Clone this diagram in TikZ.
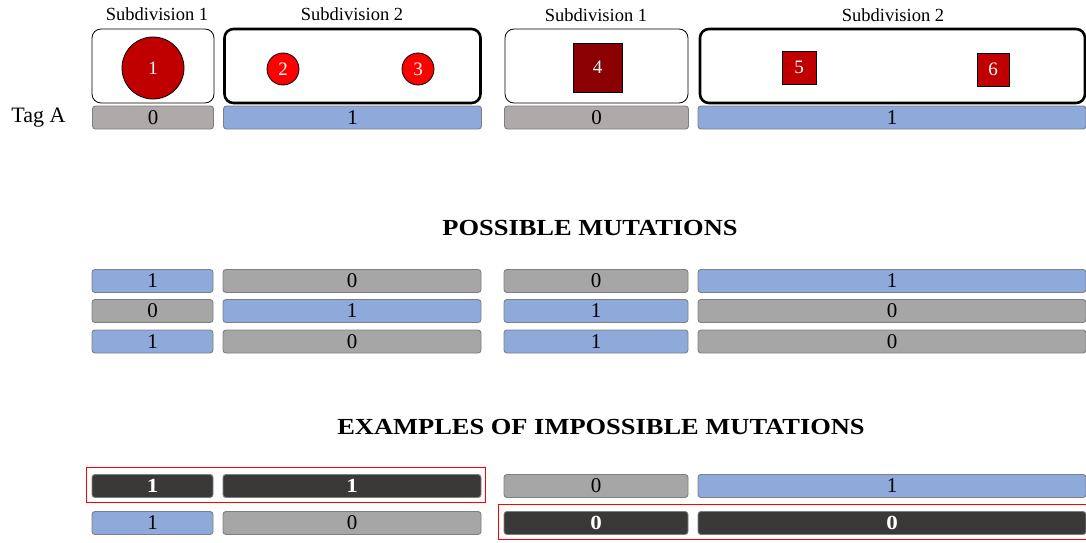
\documentclass[tikz,border=0pt]{standalone}
\usepackage{fontspec}
\setmainfont{Liberation Serif}[BoldFeatures={FakeStretch=1.15}]
\usepackage{tikz}
\usetikzlibrary{
    calc,
    positioning
}
\definecolor{zerogray}{HTML}{AEAAAA}
\definecolor{midgray}{HTML}{A6A6A6}
\definecolor{oneblue}{HTML}{8EAADB}
\definecolor{darkbar}{HTML}{3B3838}
\definecolor{edgegray}{HTML}{7F7F7F}
\definecolor{redA}{HTML}{C00000}
\definecolor{redB}{HTML}{FF0000}
\definecolor{redC}{HTML}{8B0000}

\tikzset{
    subbox/.style={draw,rounded corners=9pt,line width=0.8pt,fill=white,inner sep=0pt,minimum height=74pt},
    subboxthick/.style={subbox,line width=2.6pt},
    bar/.style={draw=edgegray,rounded corners=3pt,line width=0.9pt,inner sep=0pt,minimum height=23pt,font=\fontsize{21}{21}\selectfont},
    zbar/.style={bar,fill=midgray},
    obar/.style={bar,fill=oneblue},
    badbar/.style={bar,fill=darkbar,text=white,font=\fontsize{20}{20}\selectfont\bfseries},
    colA/.style={minimum width=121pt},
    colB/.style={minimum width=258pt},
    colC/.style={minimum width=184pt},
    colD/.style={minimum width=388pt},
    item/.style={draw,line width=0.8pt,inner sep=0pt,text=white,font=\fontsize{19}{19}\selectfont},
    sublabel/.style={font=\fontsize{18.5}{18.5}\selectfont},
    heading/.style={font=\fontsize{23}{23}\selectfont\bfseries},
    wrong/.style={draw=redB,line width=1pt}
}

\begin{document}
\begin{tikzpicture}[x=1pt,y=-1pt]
\useasboundingbox (0,0) rectangle (1086,543);
%\draw [help lines,step=50] (0,0) grid (1086,543);
% subdivisions
\node [sublabel] (s1l) at (157,14) {Subdivision 1};
\node [sublabel] (s2l) at (352,14) {Subdivision 2};
\node [sublabel] (s1r) at (596,15) {Subdivision 1};
\node [sublabel] (s2r) at (893,15) {Subdivision 2};
\node [subbox,minimum width=122pt] (b1l) at (153,66) {};
\node [subboxthick,minimum width=256pt] (b2l) at (352.5,66) {};
\node [subbox,minimum width=183pt] (b1r) at (596.5,66) {};
\node [subboxthick,minimum width=385pt] (b2r) at (892.5,66) {};
\node [item,circle,fill=redA,minimum size=62pt] (c1) at (153,68) {1};
\node [item,circle,fill=redB,minimum size=32pt] (c2) at (283,69) {2};
\node [item,circle,fill=redB,minimum size=32pt] (c3) at (418,69) {3};
\node [item,fill=redC,minimum width=49pt,minimum height=49pt] (q4) at (597.5,67.5) {4};
\node [item,fill=redA,minimum width=34pt,minimum height=33pt] (q5) at (799,67.5) {5};
\node [item,fill=redA,minimum width=32pt,minimum height=33pt] (q6) at (993,69.5) {6};
% tag row
\node [font=\fontsize{22}{22}\selectfont] (tag) at (38.5,118) {Tag A};
\node [bar,fill=zerogray,colA] (t1) at (153,117.5) {0};
\node [obar,colB] (t2) at (352.5,117.5) {1};
\node [bar,fill=zerogray,colC] (t3) at (596.5,117.5) {0};
\node [obar,colD] (t4) at (892,117.5) {1};
% possible
\node [heading] (pm) at (590,228) {POSSIBLE MUTATIONS};
\node [obar,colA] (p11) at (152.5,281) {1};
\node [zbar,colB] (p12) at (352,281) {0};
\node [zbar,colC] (p13) at (596,281) {0};
\node [obar,colD] (p14) at (892,281) {1};
\node [zbar,colA] (p21) at (152.5,311) {0};
\node [obar,colB] (p22) at (352,311) {1};
\node [obar,colC] (p23) at (596,311) {1};
\node [zbar,colD] (p24) at (892,311) {0};
\node [obar,colA] (p31) at (152.5,341.5) {1};
\node [zbar,colB] (p32) at (352,341.5) {0};
\node [obar,colC] (p33) at (596,341.5) {1};
\node [zbar,colD] (p34) at (892,341.5) {0};
% impossible
\node [heading] (im) at (601,427) {EXAMPLES OF IMPOSSIBLE MUTATIONS};
\node [badbar,colA] (i11) at (152.5,486) {1};
\node [badbar,colB] (i12) at (352,486) {1};
\node [zbar,colC] (i13) at (596,486) {0};
\node [obar,colD] (i14) at (892,486) {1};
\node [obar,colA] (i21) at (152.5,523) {1};
\node [zbar,colB] (i22) at (352,523) {0};
\node [badbar,colC] (i23) at (596,523) {0};
\node [badbar,colD] (i24) at (892,523) {0};
\draw [wrong] ($(i11.north west)+(-5,-7)$) rectangle ($(i12.south east)+(4,5)$);
\draw [wrong] ($(i23.north west)+(-5,-7)$) rectangle ($(i24.south east)+(6,5)$);
\end{tikzpicture}
\end{document}
